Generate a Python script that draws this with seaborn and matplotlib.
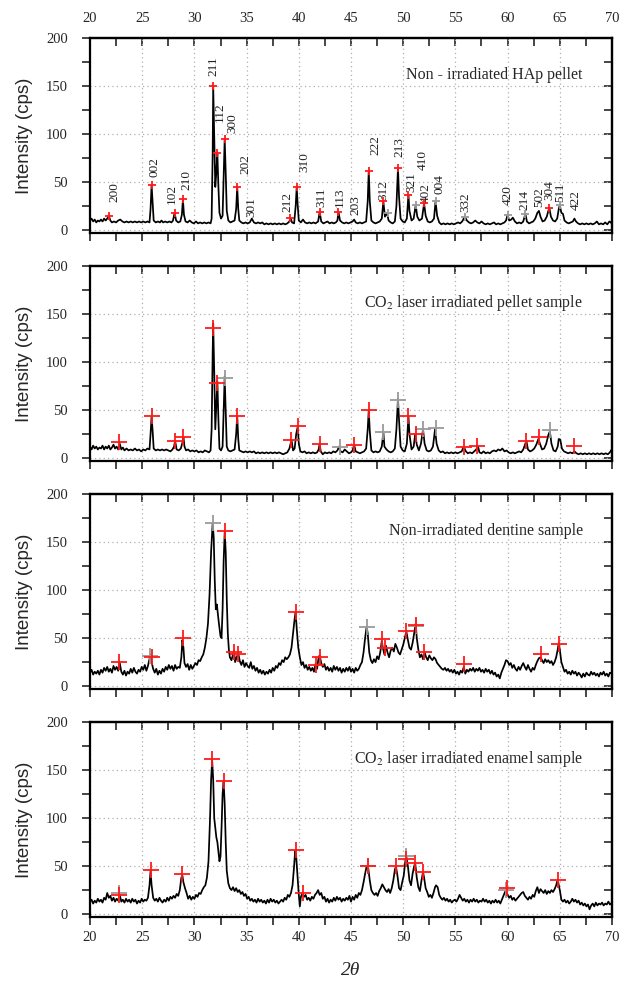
import matplotlib
matplotlib.use("Agg")
import matplotlib.pyplot as plt
from matplotlib.ticker import MultipleLocator
import pandas as pd
import seaborn as sns

# ---- XRD traces, (2theta, intensity cps) ----
hap_pellet = [
    (20.0, 10), (20.15, 12), (20.3, 9), (20.45, 11), (20.6, 8), (20.75, 10), (20.9, 9), (21.05, 11),
    (21.2, 9), (21.35, 12), (21.5, 10), (21.65, 12), (21.8, 15), (21.95, 10), (22.1, 8), (22.3, 9),
    (22.5, 8), (22.7, 10), (22.9, 11), (23.1, 9), (23.3, 8), (23.5, 9), (23.7, 8), (23.9, 9),
    (24.1, 8), (24.3, 9), (24.5, 8), (24.7, 9), (24.9, 8), (25.1, 9), (25.3, 8), (25.5, 9),
    (25.7, 8), (25.8, 22), (25.9, 47), (26.0, 28), (26.1, 10), (26.3, 8), (26.5, 9), (26.7, 8),
    (26.85, 10), (27.0, 8), (27.2, 9), (27.4, 8), (27.6, 9), (27.8, 8), (27.95, 10), (28.1, 18),
    (28.25, 10), (28.45, 8), (28.65, 9), (28.8, 16), (28.9, 32), (29.0, 16), (29.15, 9), (29.35, 8),
    (29.55, 10), (29.75, 8), (29.95, 7), (30.15, 9), (30.35, 7), (30.55, 8), (30.75, 7), (30.95, 8),
    (31.15, 7), (31.35, 8), (31.55, 7), (31.65, 12), (31.75, 80), (31.8, 150), (31.9, 95), (32.0, 45),
    (32.1, 60), (32.2, 80), (32.3, 45), (32.4, 18), (32.55, 12), (32.7, 15), (32.8, 55), (32.9, 95),
    (33.0, 60), (33.1, 20), (33.25, 10), (33.45, 8), (33.65, 9), (33.85, 10), (34.0, 22), (34.1, 45),
    (34.2, 22), (34.3, 10), (34.5, 8), (34.7, 7), (34.9, 8), (35.1, 7), (35.3, 8), (35.5, 12),
    (35.7, 8), (35.9, 7), (36.1, 8), (36.3, 7), (36.5, 8), (36.7, 6), (36.9, 7), (37.1, 6),
    (37.3, 7), (37.5, 6), (37.7, 7), (37.9, 6), (38.1, 7), (38.3, 6), (38.5, 7), (38.7, 6),
    (38.9, 7), (39.1, 9), (39.2, 13), (39.35, 8), (39.55, 7), (39.7, 25), (39.8, 45), (39.9, 25),
    (40.0, 10), (40.2, 8), (40.4, 11), (40.6, 8), (40.8, 7), (41.0, 8), (41.2, 7), (41.4, 8),
    (41.6, 7), (41.85, 9), (42.0, 19), (42.15, 9), (42.35, 7), (42.55, 8), (42.75, 9), (42.95, 7),
    (43.15, 8), (43.35, 7), (43.55, 8), (43.7, 10), (43.8, 19), (43.95, 10), (44.15, 8), (44.35, 7),
    (44.55, 8), (44.75, 7), (44.95, 8), (45.15, 9), (45.3, 11), (45.45, 8), (45.65, 7), (45.85, 8),
    (46.05, 7), (46.25, 8), (46.45, 9), (46.6, 30), (46.7, 62), (46.8, 30), (46.95, 10), (47.15, 8),
    (47.35, 7), (47.55, 8), (47.75, 9), (47.95, 12), (48.1, 30), (48.25, 14), (48.45, 18), (48.6, 10),
    (48.8, 8), (49.0, 7), (49.2, 9), (49.35, 25), (49.5, 65), (49.6, 35), (49.75, 12), (49.95, 9),
    (50.15, 8), (50.35, 12), (50.5, 37), (50.6, 20), (50.8, 10), (51.0, 12), (51.2, 26), (51.35, 14),
    (51.55, 10), (51.8, 12), (52.0, 28), (52.15, 15), (52.35, 9), (52.55, 8), (52.75, 9), (52.95, 12),
    (53.1, 30), (53.25, 15), (53.45, 8), (53.65, 6), (53.85, 7), (54.05, 6), (54.25, 7), (54.45, 6),
    (54.65, 7), (54.85, 6), (55.05, 7), (55.25, 8), (55.45, 7), (55.65, 9), (55.9, 14), (56.1, 10),
    (56.3, 8), (56.5, 7), (56.7, 8), (56.9, 10), (57.1, 8), (57.3, 7), (57.5, 9), (57.7, 7),
    (57.9, 6), (58.1, 7), (58.3, 6), (58.5, 7), (58.7, 8), (58.9, 6), (59.1, 7), (59.3, 6),
    (59.5, 7), (59.7, 8), (59.85, 10), (60.0, 16), (60.15, 10), (60.35, 11), (60.5, 13), (60.7, 9),
    (60.9, 7), (61.1, 8), (61.3, 7), (61.5, 9), (61.7, 17), (61.85, 9), (62.05, 7), (62.25, 8),
    (62.45, 9), (62.65, 12), (62.85, 18), (63.0, 20), (63.15, 14), (63.35, 9), (63.55, 10), (63.75, 14),
    (63.9, 20), (64.0, 23), (64.15, 14), (64.35, 10), (64.55, 9), (64.75, 12), (64.9, 22), (65.0, 26),
    (65.15, 18), (65.3, 17), (65.45, 10), (65.65, 8), (65.85, 7), (66.05, 8), (66.25, 9), (66.4, 12),
    (66.55, 9), (66.75, 7), (66.95, 6), (67.15, 7), (67.35, 6), (67.55, 7), (67.75, 6), (67.95, 7),
    (68.15, 6), (68.35, 7), (68.55, 9), (68.75, 6), (68.95, 7), (69.15, 6), (69.35, 8), (69.55, 6),
    (69.75, 9), (69.9, 8), (70.0, 6),
]

co2_pellet = [
    (20.0, 12), (20.15, 9), (20.3, 13), (20.45, 10), (20.6, 12), (20.75, 9), (20.9, 11), (21.05, 10),
    (21.2, 13), (21.35, 9), (21.5, 12), (21.65, 10), (21.8, 13), (21.95, 9), (22.1, 11), (22.25, 14),
    (22.4, 10), (22.55, 12), (22.7, 9), (22.85, 15), (23.0, 9), (23.15, 11), (23.3, 8), (23.5, 10),
    (23.7, 8), (23.9, 9), (24.1, 8), (24.3, 10), (24.5, 8), (24.7, 9), (24.9, 7), (25.1, 9),
    (25.3, 8), (25.5, 10), (25.7, 9), (25.8, 25), (25.9, 44), (26.0, 28), (26.1, 10), (26.3, 8),
    (26.5, 9), (26.7, 8), (26.9, 9), (27.1, 8), (27.3, 9), (27.5, 8), (27.7, 7), (27.9, 9),
    (28.05, 12), (28.15, 18), (28.3, 9), (28.5, 8), (28.7, 10), (28.85, 16), (28.95, 22), (29.05, 12),
    (29.2, 8), (29.4, 9), (29.6, 7), (29.8, 8), (30.0, 7), (30.2, 8), (30.4, 6), (30.6, 7),
    (30.8, 6), (31.0, 8), (31.2, 7), (31.4, 6), (31.55, 8), (31.65, 30), (31.75, 110), (31.8, 140),
    (31.9, 90), (32.0, 30), (32.1, 55), (32.2, 80), (32.3, 40), (32.4, 10), (32.55, 8), (32.7, 12),
    (32.8, 50), (32.9, 85), (33.0, 50), (33.1, 12), (33.25, 8), (33.45, 7), (33.65, 8), (33.85, 9),
    (34.0, 25), (34.1, 44), (34.2, 20), (34.3, 8), (34.5, 7), (34.7, 6), (34.9, 7), (35.1, 6),
    (35.3, 7), (35.5, 6), (35.7, 7), (35.9, 5), (36.1, 6), (36.3, 5), (36.5, 6), (36.7, 5),
    (36.9, 6), (37.1, 5), (37.3, 6), (37.5, 5), (37.7, 6), (37.9, 5), (38.1, 6), (38.3, 5),
    (38.5, 4), (38.7, 5), (38.9, 6), (39.1, 10), (39.3, 19), (39.45, 8), (39.6, 10), (39.75, 25),
    (39.9, 33), (40.0, 15), (40.15, 7), (40.35, 6), (40.55, 7), (40.75, 5), (40.95, 6), (41.15, 5),
    (41.35, 6), (41.55, 5), (41.75, 6), (41.9, 9), (42.0, 15), (42.1, 7), (42.3, 4), (42.5, 6),
    (42.7, 5), (42.9, 6), (43.1, 5), (43.3, 7), (43.5, 6), (43.7, 8), (43.85, 12), (44.0, 7),
    (44.2, 6), (44.4, 9), (44.6, 7), (44.8, 5), (45.0, 6), (45.15, 8), (45.3, 14), (45.45, 7),
    (45.65, 6), (45.85, 5), (46.05, 6), (46.25, 7), (46.45, 10), (46.6, 30), (46.7, 50), (46.8, 28),
    (46.95, 8), (47.15, 6), (47.35, 7), (47.55, 6), (47.75, 7), (47.95, 12), (48.1, 27), (48.2, 12),
    (48.4, 9), (48.6, 7), (48.8, 6), (49.0, 7), (49.2, 10), (49.35, 30), (49.5, 62), (49.6, 40),
    (49.75, 12), (49.95, 8), (50.15, 7), (50.35, 15), (50.5, 44), (50.6, 25), (50.8, 9), (51.0, 12),
    (51.15, 25), (51.3, 14), (51.5, 8), (51.7, 15), (51.9, 30), (52.05, 15), (52.25, 8), (52.45, 7),
    (52.65, 8), (52.85, 12), (53.05, 30), (53.2, 15), (53.4, 8), (53.6, 6), (53.8, 7), (54.0, 5),
    (54.2, 6), (54.4, 5), (54.6, 6), (54.8, 5), (55.0, 6), (55.2, 5), (55.4, 6), (55.6, 7),
    (55.8, 12), (56.0, 7), (56.2, 5), (56.4, 6), (56.6, 5), (56.8, 7), (57.0, 9), (57.15, 13),
    (57.3, 6), (57.5, 5), (57.7, 7), (57.9, 5), (58.1, 6), (58.3, 5), (58.5, 7), (58.7, 8),
    (58.9, 7), (59.1, 9), (59.3, 8), (59.5, 10), (59.7, 7), (59.9, 8), (60.1, 6), (60.3, 5),
    (60.5, 6), (60.7, 5), (60.9, 6), (61.1, 7), (61.3, 6), (61.5, 9), (61.7, 15), (61.8, 18),
    (61.95, 9), (62.15, 7), (62.35, 8), (62.55, 10), (62.75, 14), (62.95, 20), (63.1, 15), (63.3, 9),
    (63.5, 10), (63.7, 15), (63.9, 24), (64.05, 28), (64.2, 15), (64.4, 8), (64.6, 7), (64.8, 12),
    (64.9, 20), (65.05, 19), (65.2, 10), (65.4, 7), (65.6, 6), (65.8, 5), (66.0, 6), (66.2, 5),
    (66.4, 7), (66.6, 5), (66.8, 4), (67.0, 5), (67.2, 4), (67.4, 5), (67.6, 4), (67.8, 5),
    (68.0, 4), (68.2, 5), (68.4, 4), (68.6, 5), (68.8, 4), (69.0, 5), (69.2, 4), (69.4, 5),
    (69.6, 4), (69.8, 6), (69.9, 8), (70.0, 9),
]

dentine = [
    (20.0, 14), (20.15, 17), (20.3, 12), (20.45, 15), (20.6, 13), (20.75, 16), (20.9, 12), (21.05, 17),
    (21.2, 14), (21.35, 19), (21.5, 16), (21.65, 20), (21.8, 15), (21.95, 18), (22.1, 14), (22.25, 21),
    (22.4, 17), (22.55, 20), (22.7, 16), (22.85, 24), (23.0, 15), (23.15, 12), (23.3, 16), (23.45, 11),
    (23.6, 15), (23.75, 13), (23.9, 18), (24.05, 14), (24.2, 19), (24.35, 15), (24.5, 13), (24.65, 17),
    (24.8, 15), (24.95, 20), (25.1, 17), (25.25, 22), (25.4, 16), (25.55, 21), (25.7, 28), (25.8, 33),
    (25.9, 25), (26.05, 18), (26.2, 14), (26.35, 18), (26.5, 12), (26.65, 16), (26.8, 13), (26.95, 18),
    (27.1, 15), (27.25, 20), (27.4, 17), (27.55, 22), (27.7, 18), (27.85, 21), (28.0, 16), (28.15, 22),
    (28.3, 18), (28.45, 20), (28.6, 19), (28.75, 30), (28.85, 48), (28.95, 40), (29.05, 24), (29.2, 20),
    (29.35, 23), (29.5, 17), (29.65, 22), (29.8, 18), (29.95, 21), (30.1, 24), (30.25, 22), (30.4, 27),
    (30.55, 26), (30.7, 30), (30.85, 33), (31.0, 40), (31.15, 50), (31.3, 65), (31.45, 95), (31.6, 140),
    (31.75, 170), (31.85, 155), (31.95, 110), (32.05, 80), (32.15, 85), (32.25, 75), (32.35, 65), (32.5, 52),
    (32.6, 50), (32.7, 80), (32.8, 130), (32.9, 160), (33.0, 140), (33.1, 90), (33.2, 55), (33.3, 38),
    (33.4, 30), (33.55, 27), (33.7, 33), (33.8, 37), (33.9, 25), (34.05, 30), (34.2, 34), (34.35, 26),
    (34.5, 22), (34.65, 27), (34.8, 20), (34.95, 24), (35.1, 21), (35.25, 19), (35.4, 25), (35.55, 18),
    (35.7, 21), (35.85, 16), (36.0, 19), (36.15, 14), (36.3, 17), (36.45, 13), (36.6, 16), (36.75, 12),
    (36.9, 15), (37.05, 13), (37.2, 17), (37.35, 14), (37.5, 19), (37.65, 16), (37.8, 21), (37.95, 19),
    (38.1, 24), (38.25, 22), (38.4, 27), (38.55, 25), (38.7, 30), (38.85, 28), (39.0, 30), (39.15, 33),
    (39.3, 40), (39.45, 55), (39.6, 70), (39.7, 77), (39.8, 60), (39.95, 40), (40.1, 30), (40.25, 22),
    (40.4, 25), (40.55, 19), (40.7, 22), (40.85, 17), (41.0, 20), (41.15, 16), (41.3, 19), (41.45, 15),
    (41.6, 23), (41.75, 18), (41.9, 30), (42.0, 32), (42.15, 24), (42.3, 20), (42.45, 23), (42.6, 17),
    (42.75, 20), (42.9, 16), (43.05, 19), (43.2, 15), (43.35, 21), (43.5, 17), (43.65, 20), (43.8, 16),
    (43.95, 19), (44.1, 14), (44.25, 18), (44.4, 15), (44.55, 19), (44.7, 16), (44.85, 20), (45.0, 15),
    (45.15, 18), (45.3, 14), (45.45, 19), (45.6, 16), (45.75, 18), (45.9, 22), (46.05, 25), (46.2, 35),
    (46.35, 50), (46.5, 62), (46.6, 55), (46.75, 35), (46.9, 27), (47.05, 24), (47.2, 28), (47.35, 25),
    (47.5, 31), (47.65, 28), (47.8, 35), (47.95, 47), (48.05, 40), (48.2, 33), (48.35, 42), (48.5, 35),
    (48.65, 30), (48.8, 37), (48.95, 40), (49.1, 36), (49.25, 44), (49.4, 40), (49.55, 35), (49.7, 33),
    (49.85, 38), (50.0, 43), (50.15, 50), (50.3, 57), (50.45, 48), (50.6, 40), (50.75, 38), (50.9, 45),
    (51.05, 55), (51.2, 65), (51.3, 50), (51.45, 38), (51.6, 30), (51.75, 33), (51.9, 28), (52.05, 35),
    (52.2, 30), (52.35, 27), (52.5, 32), (52.65, 29), (52.8, 27), (52.95, 30), (53.1, 28), (53.25, 24),
    (53.4, 22), (53.55, 20), (53.7, 18), (53.85, 17), (54.0, 19), (54.15, 16), (54.3, 18), (54.45, 15),
    (54.6, 17), (54.75, 14), (54.9, 17), (55.05, 13), (55.2, 15), (55.35, 12), (55.5, 16), (55.65, 14),
    (55.8, 20), (55.95, 13), (56.1, 17), (56.25, 15), (56.4, 18), (56.55, 16), (56.7, 19), (56.85, 15),
    (57.0, 18), (57.15, 16), (57.3, 19), (57.45, 15), (57.6, 17), (57.75, 14), (57.9, 18), (58.05, 15),
    (58.2, 17), (58.35, 13), (58.5, 16), (58.65, 12), (58.8, 14), (58.95, 10), (59.1, 12), (59.25, 8),
    (59.4, 14), (59.55, 18), (59.7, 22), (59.85, 27), (60.0, 26), (60.15, 22), (60.3, 24), (60.45, 19),
    (60.6, 22), (60.75, 18), (60.9, 16), (61.05, 20), (61.2, 17), (61.35, 21), (61.5, 24), (61.65, 20),
    (61.8, 17), (61.95, 22), (62.1, 18), (62.25, 15), (62.4, 19), (62.55, 17), (62.7, 22), (62.85, 26),
    (63.0, 29), (63.15, 30), (63.3, 27), (63.45, 24), (63.6, 28), (63.75, 25), (63.9, 27), (64.05, 24),
    (64.2, 26), (64.35, 22), (64.5, 25), (64.65, 30), (64.8, 38), (64.9, 45), (65.0, 38), (65.15, 25),
    (65.3, 20), (65.45, 15), (65.6, 17), (65.75, 13), (65.9, 15), (66.05, 12), (66.2, 16), (66.35, 13),
    (66.5, 15), (66.65, 11), (66.8, 14), (66.95, 12), (67.1, 9), (67.25, 13), (67.4, 10), (67.55, 14),
    (67.7, 12), (67.85, 11), (68.0, 15), (68.15, 12), (68.3, 14), (68.45, 11), (68.6, 13), (68.75, 10),
    (68.9, 14), (69.05, 12), (69.2, 15), (69.35, 11), (69.5, 13), (69.65, 10), (69.8, 14), (70.0, 13),
]

co2_enamel = [
    (20.0, 13), (20.15, 15), (20.3, 11), (20.45, 14), (20.6, 12), (20.75, 16), (20.9, 13), (21.05, 15),
    (21.2, 12), (21.35, 17), (21.5, 15), (21.65, 22), (21.8, 17), (21.95, 19), (22.1, 14), (22.25, 17),
    (22.4, 13), (22.55, 16), (22.7, 14), (22.85, 20), (23.0, 13), (23.15, 15), (23.3, 12), (23.45, 16),
    (23.6, 13), (23.75, 15), (23.9, 12), (24.05, 16), (24.2, 13), (24.35, 15), (24.5, 11), (24.65, 14),
    (24.8, 12), (24.95, 16), (25.1, 13), (25.25, 15), (25.4, 14), (25.55, 17), (25.7, 30), (25.8, 45),
    (25.9, 30), (26.05, 17), (26.2, 14), (26.35, 16), (26.5, 13), (26.65, 17), (26.8, 14), (26.95, 12),
    (27.1, 15), (27.25, 13), (27.4, 17), (27.55, 14), (27.7, 18), (27.85, 16), (28.0, 19), (28.15, 17),
    (28.3, 21), (28.45, 19), (28.6, 25), (28.75, 38), (28.85, 40), (28.95, 33), (29.1, 27), (29.25, 22),
    (29.4, 16), (29.55, 19), (29.7, 15), (29.85, 18), (30.0, 16), (30.15, 20), (30.3, 18), (30.45, 22),
    (30.6, 21), (30.75, 25), (30.9, 28), (31.05, 30), (31.2, 38), (31.35, 55), (31.5, 100), (31.6, 140),
    (31.7, 160), (31.8, 140), (31.9, 100), (32.0, 90), (32.1, 80), (32.2, 75), (32.3, 65), (32.4, 55),
    (32.5, 60), (32.6, 90), (32.7, 125), (32.8, 138), (32.9, 115), (33.0, 75), (33.1, 45), (33.25, 32),
    (33.4, 27), (33.55, 25), (33.7, 28), (33.85, 24), (34.0, 27), (34.15, 23), (34.3, 25), (34.45, 21),
    (34.6, 23), (34.75, 19), (34.9, 21), (35.05, 16), (35.2, 18), (35.35, 14), (35.5, 16), (35.65, 13),
    (35.8, 15), (35.95, 12), (36.1, 16), (36.25, 13), (36.4, 15), (36.55, 12), (36.7, 14), (36.85, 11),
    (37.0, 15), (37.15, 12), (37.3, 16), (37.45, 13), (37.6, 15), (37.75, 12), (37.9, 14), (38.05, 11),
    (38.2, 13), (38.35, 15), (38.5, 13), (38.65, 17), (38.8, 15), (38.95, 20), (39.1, 18), (39.25, 22),
    (39.4, 30), (39.55, 50), (39.65, 66), (39.75, 60), (39.9, 35), (40.0, 20), (40.1, 8), (40.2, 18),
    (40.35, 22), (40.5, 18), (40.65, 20), (40.8, 15), (40.95, 17), (41.1, 14), (41.25, 18), (41.4, 16),
    (41.55, 20), (41.7, 22), (41.85, 25), (42.0, 20), (42.15, 22), (42.3, 16), (42.45, 18), (42.6, 13),
    (42.75, 16), (42.9, 12), (43.05, 15), (43.2, 13), (43.35, 17), (43.5, 14), (43.65, 18), (43.8, 15),
    (43.95, 17), (44.1, 13), (44.25, 16), (44.4, 14), (44.55, 17), (44.7, 15), (44.85, 19), (45.0, 13),
    (45.15, 18), (45.3, 15), (45.45, 20), (45.6, 17), (45.75, 22), (45.9, 20), (46.05, 25), (46.2, 33),
    (46.35, 42), (46.5, 50), (46.65, 48), (46.8, 35), (46.95, 25), (47.1, 22), (47.25, 20), (47.4, 22),
    (47.55, 19), (47.7, 24), (47.85, 27), (48.0, 31), (48.15, 28), (48.3, 25), (48.45, 23), (48.6, 26),
    (48.75, 22), (48.9, 27), (49.05, 35), (49.2, 46), (49.3, 50), (49.45, 40), (49.6, 27), (49.75, 25),
    (49.9, 33), (50.05, 40), (50.2, 55), (50.3, 60), (50.45, 50), (50.6, 35), (50.75, 30), (50.9, 42),
    (51.05, 50), (51.15, 53), (51.3, 38), (51.45, 28), (51.6, 24), (51.75, 35), (51.9, 44), (52.0, 38),
    (52.15, 27), (52.3, 23), (52.45, 18), (52.6, 20), (52.75, 17), (52.9, 22), (53.05, 28), (53.15, 30),
    (53.3, 28), (53.45, 20), (53.6, 17), (53.75, 15), (53.9, 17), (54.05, 14), (54.2, 16), (54.35, 13),
    (54.5, 15), (54.65, 12), (54.8, 14), (54.95, 15), (55.1, 13), (55.25, 16), (55.4, 20), (55.55, 17),
    (55.7, 14), (55.85, 16), (56.0, 13), (56.15, 15), (56.3, 12), (56.45, 15), (56.6, 13), (56.75, 16),
    (56.9, 13), (57.05, 15), (57.2, 12), (57.35, 14), (57.5, 13), (57.65, 16), (57.8, 13), (57.95, 15),
    (58.1, 12), (58.25, 14), (58.4, 11), (58.55, 14), (58.7, 12), (58.85, 15), (59.0, 12), (59.15, 14),
    (59.3, 11), (59.45, 15), (59.6, 19), (59.75, 23), (59.85, 25), (60.0, 20), (60.15, 17), (60.3, 19),
    (60.45, 15), (60.6, 17), (60.75, 14), (60.9, 16), (61.05, 18), (61.2, 20), (61.35, 22), (61.5, 23),
    (61.65, 19), (61.8, 17), (61.95, 15), (62.1, 18), (62.25, 16), (62.4, 20), (62.55, 18), (62.7, 24),
    (62.85, 28), (63.0, 22), (63.15, 26), (63.3, 24), (63.45, 22), (63.6, 25), (63.75, 21), (63.9, 24),
    (64.05, 22), (64.2, 25), (64.35, 23), (64.5, 26), (64.65, 30), (64.75, 34), (64.85, 33), (65.0, 25),
    (65.15, 15), (65.3, 13), (65.45, 15), (65.6, 12), (65.75, 14), (65.9, 11), (66.05, 13), (66.2, 16),
    (66.35, 13), (66.5, 15), (66.65, 12), (66.8, 14), (66.95, 10), (67.1, 12), (67.25, 9), (67.4, 11),
    (67.55, 8), (67.7, 10), (67.85, 5), (68.0, 9), (68.15, 11), (68.3, 8), (68.45, 12), (68.6, 9),
    (68.75, 11), (68.9, 10), (69.05, 12), (69.2, 9), (69.35, 11), (69.5, 10), (69.65, 13), (69.8, 10),
    (70.0, 12),
]

# ---- identified peaks (red) and reference peaks (grey) ----
hap_red = [(21.8, 15), (25.9, 47), (28.1, 18), (28.9, 32), (31.8, 150), (32.2, 80), (32.9, 95),
           (34.1, 45), (39.2, 13), (39.8, 45), (42.0, 19), (43.8, 19), (46.7, 62), (48.1, 30),
           (49.5, 65), (50.5, 37), (52.0, 28), (64.0, 23)]
hap_grey = [(48.5, 18), (51.2, 26), (53.1, 30), (55.9, 14), (60.0, 16), (61.7, 17), (65.0, 26)]

co2_pellet_red = [(22.8, 17), (25.9, 44), (28.1, 18), (28.9, 22), (31.8, 135), (32.2, 78),
                  (34.1, 44), (39.3, 19), (39.9, 33), (42.0, 15), (45.3, 14), (46.7, 50),
                  (50.5, 44), (51.2, 25), (55.8, 12), (57.1, 13), (61.8, 18), (63.0, 22), (66.4, 13)]
co2_pellet_grey = [(32.9, 83), (43.9, 12), (48.1, 27), (49.5, 60), (51.9, 30), (53.1, 31), (64.1, 29)]

dentine_red = [(22.8, 25), (25.9, 30), (28.9, 50), (32.9, 161), (33.8, 35), (34.2, 33), (39.7, 77),
               (41.6, 22), (42.0, 30), (48.0, 49), (48.3, 40), (50.3, 57), (51.2, 64), (52.0, 35),
               (55.8, 23), (63.2, 33), (64.9, 44)]
dentine_grey = [(25.7, 31), (31.75, 170), (46.5, 62), (51.2, 63)]

enamel_red = [(22.8, 20), (25.8, 46), (28.8, 42), (31.7, 162), (32.8, 139), (39.7, 67), (40.4, 22),
              (46.6, 50), (49.3, 50), (50.3, 57), (51.1, 53), (51.9, 44), (59.9, 27), (64.8, 35)]
enamel_grey = [(22.8, 22), (46.6, 50), (50.3, 60), (59.8, 25)]

# ---- Miller indices of the HAp pellet ----
hkl_names = ["200", "002", "102", "210", "211", "112", "300", "202", "301", "212", "310", "311",
             "113", "203", "222", "312", "213", "321", "410", "402", "004", "332", "420", "214",
             "502", "304", "511", "422"]
hkl_x = [22.3, 26.2, 27.85, 29.2, 31.84, 32.4, 33.65, 34.85, 35.5, 38.9, 40.5, 42.15, 43.95, 45.4,
         47.35, 48.1, 49.65, 50.8, 51.9, 52.2, 53.5, 55.93, 60.0, 61.6, 63.0, 64.0, 65.0, 66.5]
hkl_y = [29.5, 55.5, 27, 41.7, 160, 112.8, 101, 58, 14, 19, 60, 24, 24, 15.6, 78, 31, 76, 40,
         62.5, 28, 38, 19, 26, 21, 24, 31, 29.5, 21]

titles = ["Non - irradiated HAp pellet", "CO$_2$ laser irradiated pellet sample",
          "Non-irradiated dentine sample", "CO$_2$ laser irradiated enamel sample"]

panels = [
    (hap_pellet, hap_red, hap_grey),
    (co2_pellet, co2_pellet_red, co2_pellet_grey),
    (dentine, dentine_red, dentine_grey),
    (co2_enamel, enamel_red, enamel_grey),
]

sns.set_style("white")
plt.rcParams["font.family"] = ["Liberation Serif", "DejaVu Serif"]
plt.rcParams["mathtext.fontset"] = "stix"

W, H = 621, 985
fig = plt.figure(figsize=(W / 100, H / 100), dpi=100)
tops = [38, 266, 494, 722]
left_px, width_px, height_px = 90, 522, 195

for i, (trace, red, grey) in enumerate(panels):
    ax = fig.add_axes([left_px / W, 1 - (tops[i] + height_px) / H, width_px / W, height_px / H])
    df = pd.DataFrame(trace, columns=["two_theta", "cps"])
    sns.lineplot(data=df, x="two_theta", y="cps", ax=ax, color="black", lw=1.25,
                 sort=False, estimator=None)

    msize = 36 if i == 0 else 120
    g = pd.DataFrame(grey, columns=["two_theta", "cps"])
    r = pd.DataFrame(red, columns=["two_theta", "cps"])
    sns.scatterplot(data=g, x="two_theta", y="cps", ax=ax, marker="+", color="#9a9a9a",
                    s=msize, linewidth=1.3, zorder=3)
    sns.scatterplot(data=r, x="two_theta", y="cps", ax=ax, marker="+", color="#ff1a1a",
                    s=msize, linewidth=1.3, zorder=4)

    ax.set_xlim(20, 70)
    ax.set_ylim(-3, 200)
    ax.xaxis.set_major_locator(MultipleLocator(5))
    ax.xaxis.set_minor_locator(MultipleLocator(2.5))
    ax.yaxis.set_major_locator(MultipleLocator(50))
    ax.yaxis.set_minor_locator(MultipleLocator(25))
    ax.grid(True, which="major", color="#b0b0b0", ls=(0, (1, 2.5)), lw=0.9)
    ax.tick_params(which="both", direction="out", length=6, width=1.2, labelsize=10.5,
                   left=True, bottom=True, top=False, right=False)
    ax.tick_params(axis="y", pad=10)
    ax.tick_params(axis="x", pad=4, labelbottom=(i == 3))
    for sp in ax.spines.values():
        sp.set_linewidth(1.6)
        sp.set_color("black")

    top = ax.secondary_xaxis("top")
    top.xaxis.set_major_locator(MultipleLocator(5))
    top.xaxis.set_minor_locator(MultipleLocator(2.5))
    top.tick_params(which="both", direction="in", length=6, width=1.2, labelsize=10.5,
                    pad=9, labeltop=(i == 0))
    top.spines["top"].set_linewidth(1.6)
    rgt = ax.secondary_yaxis("right")
    rgt.yaxis.set_major_locator(MultipleLocator(50))
    rgt.yaxis.set_minor_locator(MultipleLocator(25))
    rgt.tick_params(which="both", direction="in", length=6, width=1.2, labelright=False)
    rgt.spines["right"].set_linewidth(1.6)

    ax.set_ylabel("Intensity (cps)", family=["Liberation Sans", "DejaVu Sans"], fontsize=13.5)
    ax.yaxis.set_label_coords(-0.11, 0.5)
    if i == 3:
        ax.set_xlabel("2θ", style="italic", fontsize=14, labelpad=13)
    else:
        ax.set_xlabel("")

    ax.text(67.2, 162, titles[i], ha="right", va="center", fontsize=11.5)

    if i == 0:
        for name, hx, hy in zip(hkl_names, hkl_x, hkl_y):
            ax.text(hx, hy, name, rotation=90, ha="center", va="bottom", fontsize=9.5,
                    color="#222222")

fig.savefig("out.png", dpi=100)
